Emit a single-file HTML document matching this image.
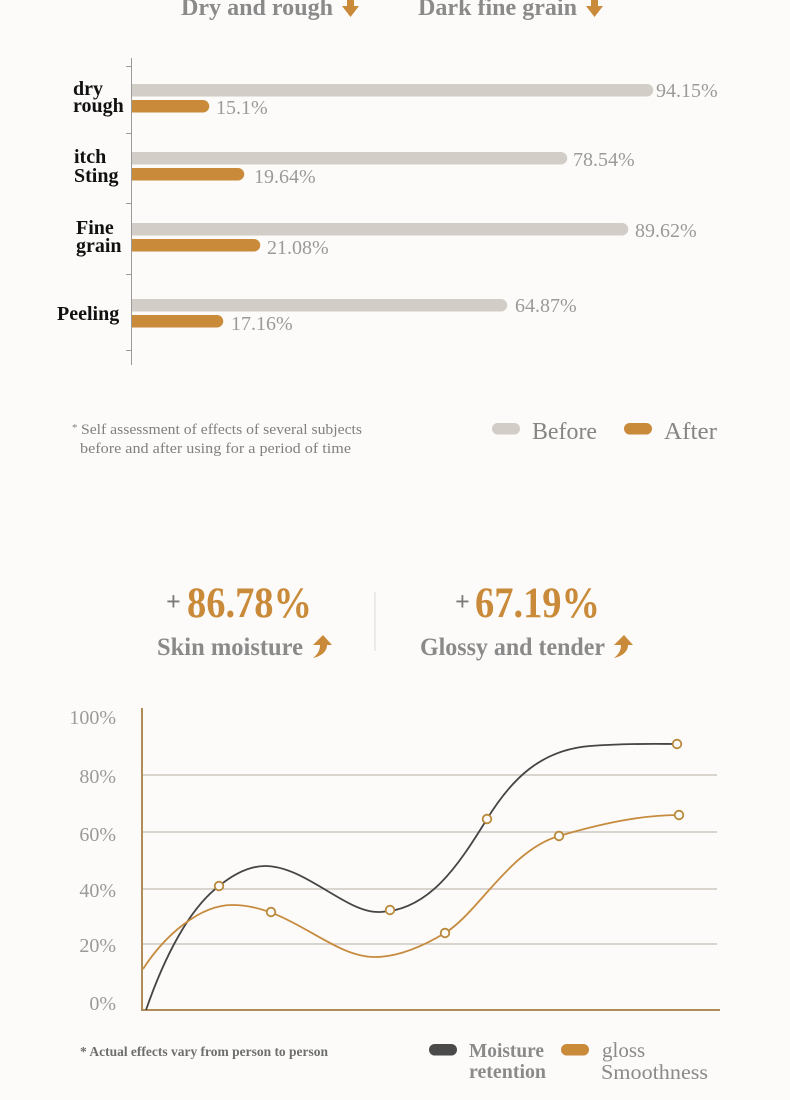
<!DOCTYPE html>
<html>
<head>
<meta charset="utf-8">
<style>
  html, body { margin:0; padding:0; background:#fcfbf9; }
  body { width:790px; height:1100px; overflow:hidden; }
  svg { display:block; }
  text { font-family: "Liberation Serif", serif; }
</style>
</head>
<body>
<svg width="790" height="1100" viewBox="0 0 790 1100" xmlns="http://www.w3.org/2000/svg">
  <rect x="0" y="0" width="790" height="1100" fill="#fcfbf9"/>

  <!-- Header -->
  <text x="181" y="15" font-size="24" font-weight="bold" fill="#8a8a8a" textLength="152" lengthAdjust="spacingAndGlyphs">Dry and rough</text>
  <polygon points="347,-2 354,-2 354,6 359,6 350.5,17 342,6 347,6" fill="#c98a3a"/>
  <text x="418" y="15" font-size="24" font-weight="bold" fill="#8a8a8a" textLength="159" lengthAdjust="spacingAndGlyphs">Dark fine grain</text>
  <polygon points="591,-2 598,-2 598,6 603,6 594.5,17 586,6 591,6" fill="#c98a3a"/>

  <!-- Bar chart axis -->
  <line x1="131.5" y1="58" x2="131.5" y2="365" stroke="#9a9a9a" stroke-width="1"/>
  <line x1="126" y1="66.5" x2="131.5" y2="66.5" stroke="#9a9a9a" stroke-width="1"/>
  <line x1="126" y1="133.5" x2="131.5" y2="133.5" stroke="#9a9a9a" stroke-width="1"/>
  <line x1="126" y1="203.5" x2="131.5" y2="203.5" stroke="#9a9a9a" stroke-width="1"/>
  <line x1="126" y1="274.5" x2="131.5" y2="274.5" stroke="#9a9a9a" stroke-width="1"/>
  <line x1="126" y1="350.5" x2="131.5" y2="350.5" stroke="#9a9a9a" stroke-width="1"/>

  <!-- Category labels -->
  <g font-size="20" font-weight="bold" fill="#111">
    <text x="73" y="95">dry</text>
    <text x="73" y="112">rough</text>
    <text x="74" y="163">itch</text>
    <text x="74" y="182">Sting</text>
    <text x="76" y="234">Fine</text>
    <text x="76" y="252">grain</text>
    <text x="57" y="320">Peeling</text>
  </g>

  <!-- Bars -->
  <g fill="#d2cdc7">
    <path d="M132,84 H647 A6,6 0 0 1 647,96.5 H132 Z"/>
    <path d="M132,152 H561 A6,6 0 0 1 561,164.5 H132 Z"/>
    <path d="M132,223 H622 A6,6 0 0 1 622,235.5 H132 Z"/>
    <path d="M132,299 H501 A6,6 0 0 1 501,311.5 H132 Z"/>
  </g>
  <g fill="#c98a3a">
    <path d="M132,100 H203 A6,6 0 0 1 203,112.5 H132 Z"/>
    <path d="M132,168 H238 A6,6 0 0 1 238,180.5 H132 Z"/>
    <path d="M132,239 H254 A6,6 0 0 1 254,251.5 H132 Z"/>
    <path d="M132,315 H217 A6,6 0 0 1 217,327.5 H132 Z"/>
  </g>

  <!-- Bar values -->
  <g font-size="20" fill="#9a9a9a">
    <text x="656" y="97">94.15%</text>
    <text x="216" y="114">15.1%</text>
    <text x="573" y="166">78.54%</text>
    <text x="254" y="183">19.64%</text>
    <text x="635" y="237">89.62%</text>
    <text x="267" y="254">21.08%</text>
    <text x="515" y="312">64.87%</text>
    <text x="231" y="330">17.16%</text>
  </g>

  <!-- Footnote 1 -->
  <text x="72" y="431" font-size="11" fill="#808080">*</text>
  <text x="81" y="434" font-size="15" fill="#808080" textLength="281" lengthAdjust="spacingAndGlyphs">Self assessment of effects of several subjects</text>
  <text x="80" y="453" font-size="15" fill="#808080" textLength="271" lengthAdjust="spacingAndGlyphs">before and after using for a period of time</text>

  <!-- Legend 1 -->
  <rect x="492" y="423" width="28" height="11.5" rx="5.75" fill="#d2cdc7"/>
  <text x="532" y="439" font-size="24" fill="#858585" textLength="65" lengthAdjust="spacingAndGlyphs">Before</text>
  <rect x="624" y="423" width="28" height="11.5" rx="5.75" fill="#c98a3a"/>
  <text x="664" y="439" font-size="24" fill="#858585" textLength="53" lengthAdjust="spacingAndGlyphs">After</text>

  <!-- Section 2 header -->
  <text x="166" y="610" font-size="26" font-weight="bold" fill="#7a7a7a">+</text>
  <text x="187" y="617" font-size="43" font-weight="bold" fill="#c98a3a" textLength="125" lengthAdjust="spacingAndGlyphs">86.78%</text>
  <text x="157" y="655" font-size="25" font-weight="bold" fill="#8a8a8a" textLength="146" lengthAdjust="spacingAndGlyphs">Skin moisture</text>
  <path d="M313,645 L323,635 L332,645 L327,645 C327,651 322,656 313,658 C318,654 320,650 320,645 Z" fill="#c98a3a"/>

  <line x1="375" y1="592" x2="375" y2="651" stroke="#dcd8d3" stroke-width="1"/>

  <text x="455" y="610" font-size="26" font-weight="bold" fill="#7a7a7a">+</text>
  <text x="475" y="617" font-size="43" font-weight="bold" fill="#c98a3a" textLength="125" lengthAdjust="spacingAndGlyphs">67.19%</text>
  <text x="420" y="655" font-size="25" font-weight="bold" fill="#8a8a8a" textLength="185" lengthAdjust="spacingAndGlyphs">Glossy and tender</text>
  <path d="M614,645 L624,635 L633,645 L628,645 C628,651 623,656 614,658 C619,654 621,650 621,645 Z" fill="#c98a3a"/>

  <!-- Line chart y labels -->
  <g font-size="20" fill="#9a9a9a" text-anchor="end">
    <text x="116" y="724">100%</text>
    <text x="116" y="783">80%</text>
    <text x="116" y="841">60%</text>
    <text x="116" y="897">40%</text>
    <text x="116" y="952">20%</text>
    <text x="116" y="1010">0%</text>
  </g>

  <!-- Gridlines -->
  <g stroke="#cdc7c0" stroke-width="1.5">
    <line x1="143" y1="775" x2="717" y2="775"/>
    <line x1="143" y1="832" x2="717" y2="832"/>
    <line x1="143" y1="889" x2="717" y2="889"/>
    <line x1="143" y1="944" x2="717" y2="944"/>
  </g>

  <!-- Axes -->
  <line x1="142" y1="708" x2="142" y2="1011" stroke="#b08d57" stroke-width="2"/>
  <line x1="141" y1="1010" x2="720" y2="1010" stroke="#b08d57" stroke-width="2"/>

  <!-- Series -->
  <path d="M146,1010 C165,955 190,908 219,886 C235,873 250,866 265,866 C305,866 345,912 378,912 C428,912 458,866 487,819 C511,780 540,750 590,746 C630,743 660,744 677,744" fill="none" stroke="#454545" stroke-width="1.8"/>
  <path d="M143,969 C165,935 200,905 232,905 C290,905 330,957 375,957 C400,957 425,945 445,933 C478,913 510,850 559,836 C600,824 640,815 679,815" fill="none" stroke="#c68b3e" stroke-width="1.8"/>

  <!-- Markers -->
  <g fill="#fcfbf9" stroke="#b98a3d" stroke-width="1.8">
    <circle cx="219" cy="886" r="4.3"/>
    <circle cx="390" cy="910" r="4.3"/>
    <circle cx="487" cy="819" r="4.3"/>
    <circle cx="677" cy="744" r="4.3"/>
    <circle cx="271" cy="912" r="4.3"/>
    <circle cx="445" cy="933" r="4.3"/>
    <circle cx="559" cy="836" r="4.3"/>
    <circle cx="679" cy="815" r="4.3"/>
  </g>

  <!-- Footnote 2 -->
  <text x="80" y="1056" font-size="13.5" font-weight="bold" fill="#6e6e6e" textLength="248" lengthAdjust="spacingAndGlyphs">* Actual effects vary from person to person</text>

  <!-- Legend 2 -->
  <rect x="429" y="1044" width="28" height="11.5" rx="5.75" fill="#4a4a4a"/>
  <text x="469" y="1057" font-size="19.5" font-weight="bold" fill="#8a8a8a" textLength="75" lengthAdjust="spacingAndGlyphs">Moisture</text>
  <text x="469" y="1078" font-size="19.5" font-weight="bold" fill="#8a8a8a" textLength="77" lengthAdjust="spacingAndGlyphs">retention</text>
  <rect x="561" y="1044" width="28" height="11.5" rx="5.75" fill="#c98a3a"/>
  <text x="602" y="1057" font-size="21" fill="#8a8a8a">gloss</text>
  <text x="601" y="1079" font-size="21" fill="#8a8a8a" textLength="107" lengthAdjust="spacingAndGlyphs">Smoothness</text>
</svg>
</body>
</html>
